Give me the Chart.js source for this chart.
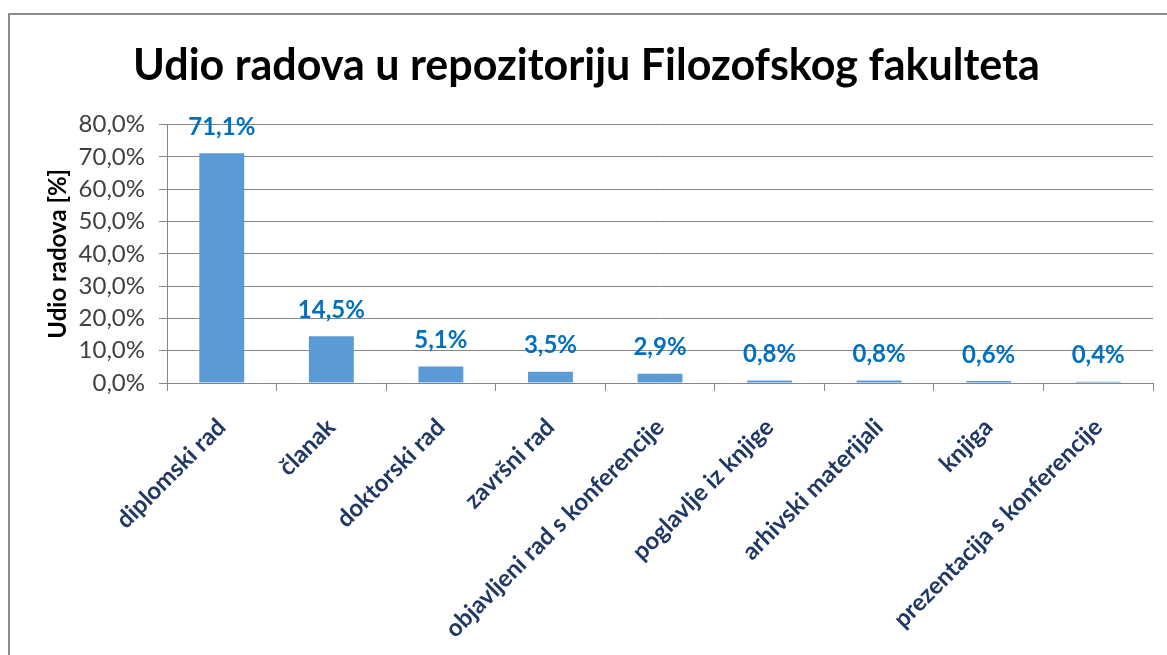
<!DOCTYPE html>
<html>
<head>
<meta charset="utf-8">
<script src="https://cdn.jsdelivr.net/npm/chart.js@4.4.0/dist/chart.umd.min.js"></script>
<style>
  html, body { margin: 0; padding: 0; background: #fff; overflow: hidden; }
  #wrap { position: relative; width: 1167px; height: 655px; }
  #frame { position: absolute; left: 8px; top: 13px; width: 1200px; height: 700px; border: 2px solid #8c8c8c; box-sizing: border-box; }
  canvas { position: absolute; left: 0; top: 0; }
</style>
</head>
<body>
<div id="wrap">
  <div id="frame"></div>
  <canvas id="barChart" width="1167" height="655"></canvas>
</div>
<script>
const categories = [
  "diplomski rad",
  "članak",
  "doktorski rad",
  "završni rad",
  "objavljeni rad s konferencije",
  "poglavlje iz knjige",
  "arhivski materijali",
  "knjiga",
  "prezentacija s konferencije"
];
const shares = [71.1, 14.5, 5.1, 3.5, 2.9, 0.8, 0.8, 0.6, 0.4];
const yTicks = [0, 10, 20, 30, 40, 50, 60, 70, 80];

const fmt = (v) => v.toFixed(1).replace(".", ",") + "%";

// value labels above each bar
const barLabels = {
  id: "barLabels",
  afterDatasetsDraw(chart) {
    const ctx = chart.ctx;
    const meta = chart.getDatasetMeta(0);
    ctx.save();
    ctx.font = "bold 24px Lato";
    ctx.fillStyle = "#0070c0";
    ctx.textAlign = "center";
    ctx.textBaseline = "middle";
    meta.data.forEach((bar, i) => {
      ctx.fillText(fmt(shares[i]), bar.x, bar.y - 26);
    });
    ctx.restore();
  },
};

var ctx = document.getElementById("barChart").getContext("2d");
var chart = new Chart(ctx, {
  type: "bar",
  data: {
    labels: categories,
    datasets: [
      {
        label: "Udio radova",
        data: shares,
        backgroundColor: "#5b9bd5",
        borderWidth: 0,
        barPercentage: 0.41,
        categoryPercentage: 1,
      },
    ],
  },
  options: {
    responsive: false,
    animation: false,
    layout: { padding: { left: 20, right: 14, top: 0, bottom: 0 } },
    plugins: {
      legend: { display: false },
      tooltip: { enabled: false },
      title: {
        display: true,
        text: "Udio radova u repozitoriju Filozofskog fakulteta",
        color: "#000",
        font: { family: "Lato", size: 43, weight: "bold", lineHeight: 1.2 },
        padding: { top: 40, bottom: 33 },
      },
    },
    scales: {
      x: {
        grid: {
          drawOnChartArea: false,
          drawTicks: true,
          tickLength: 8,
          color: "#868686",
          offset: true,
        },
        border: { color: "#868686", width: 1 },
        ticks: {
          color: "#1f3864",
          font: { family: "Lato", size: 24, weight: "bold" },
          maxRotation: 45,
          minRotation: 45,
          padding: 22,
          autoSkip: false,
        },
        afterFit(scale) {
          scale.height = 272;
        },
      },
      y: {
        min: 0,
        max: 80,
        afterBuildTicks(scale) {
          scale.ticks = yTicks.map((v) => ({ value: v }));
        },
        grid: { color: "#868686", tickLength: 8 },
        border: { color: "#868686", width: 1 },
        ticks: {
          color: "#404040",
          font: { family: "Lato", size: 24 },
          padding: 14,
          callback: (v) => fmt(v),
        },
        title: {
          display: true,
          text: "Udio radova [%]",
          color: "#000",
          font: { family: "Lato", size: 24, weight: "bold" },
          padding: { top: 24, bottom: 0 },
        },
        afterFit(scale) {
          scale.width = 147;
        },
      },
    },
  },
  plugins: [barLabels],
});
</script>
</body>
</html>
